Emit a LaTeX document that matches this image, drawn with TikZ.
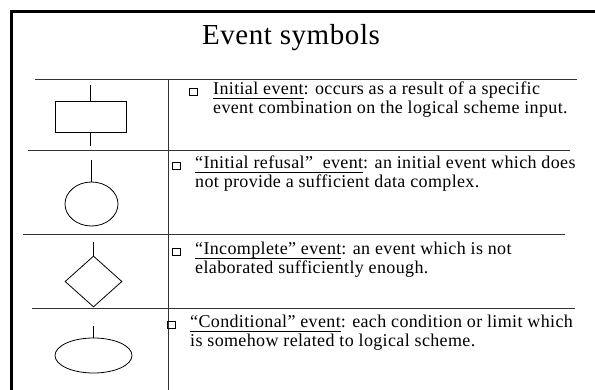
\documentclass[tikz,border=0pt]{standalone}
\usepackage{fontspec}
\setmainfont{Liberation Serif}[LetterSpace=2]
\usetikzlibrary{shapes.geometric}
\def\evname#1{\underline{\raisebox{0pt}[\height][1.5pt]{#1}}}

\begin{document}
\begin{tikzpicture}[x=1pt,y=-1pt,
  sep/.style={draw=black!80,line width=1pt},
  sym/.style={draw,line width=0.8pt,inner sep=0pt},
  bullet/.style={draw,line width=0.7pt,inner sep=0pt,minimum width=8,minimum height=7},
  desc/.style={anchor=base west,align=left,inner sep=0pt,font=\fontsize{18}{19}\selectfont}]
			\useasboundingbox (0,0) rectangle (595,390);
			\draw[line width=3pt] (11.5,390) -- (11.5,11.5) -- (595,11.5);
			\node[font=\fontsize{29}{29}\selectfont] (title) at (291,38) {Event symbols};
			\draw[sep] (35,80) -- (577,80);
			\draw[sep] (28,151) -- (570,151);
			\draw[sep] (23,234.5) -- (565,234.5);
			\draw[sep] (32,309) -- (575,309);
			\draw[sep] (168,80) -- (168,390);
			\node[sym,rectangle,minimum width=71,minimum height=31] (initial) at (90.5,116.5) {};
			\node[sym,ellipse,minimum width=53,minimum height=44] (refusal) at (91.5,204) {};
			\node[sym,diamond,minimum width=57,minimum height=51] (incomplete) at (93.5,281.5) {};
			\node[sym,ellipse,minimum width=77,minimum height=35] (conditional) at (93.5,355.5) {};
			\coordinate (initial in) at (90.5,85);
			\coordinate (initial out) at (90.5,146);
			\coordinate (refusal in) at (91.5,160);
			\coordinate (incomplete in) at (93.5,242);
			\coordinate (conditional in) at (93.5,326);
			\draw[line width=0.8pt] (initial in) -- (initial.north);
			\draw[line width=0.8pt] (initial.south) -- (initial out);
			\draw[line width=0.8pt] (refusal in) -- (refusal.north);
			\draw[line width=0.8pt] (incomplete in) -- (incomplete.north);
			\draw[line width=0.8pt] (conditional in) -- (conditional.north);
			\node[bullet] (b1) at (193,91.5) {};
			\node[bullet] (b2) at (176,165.5) {};
			\node[bullet] (b3) at (176,251.5) {};
			\node[bullet] (b4) at (171,324.5) {};
			\node[desc] (t1) at (213,114) {\evname{Initial event}: occurs as a result of a specific\\event combination on the logical scheme input.};
			\node[desc] (t2) at (195,188) {\evname{“Initial refusal”\ \ event}: an initial event which does\\not provide a sufficient data complex.};
			\node[desc] (t3) at (195,274) {\evname{“Incomplete” event}: an event which is not\\elaborated sufficiently enough.};
			\node[desc] (t4) at (190,347) {\evname{“Conditional” event}: each condition or limit which\\is somehow related to logical scheme.};
		\end{tikzpicture}
\end{document}
